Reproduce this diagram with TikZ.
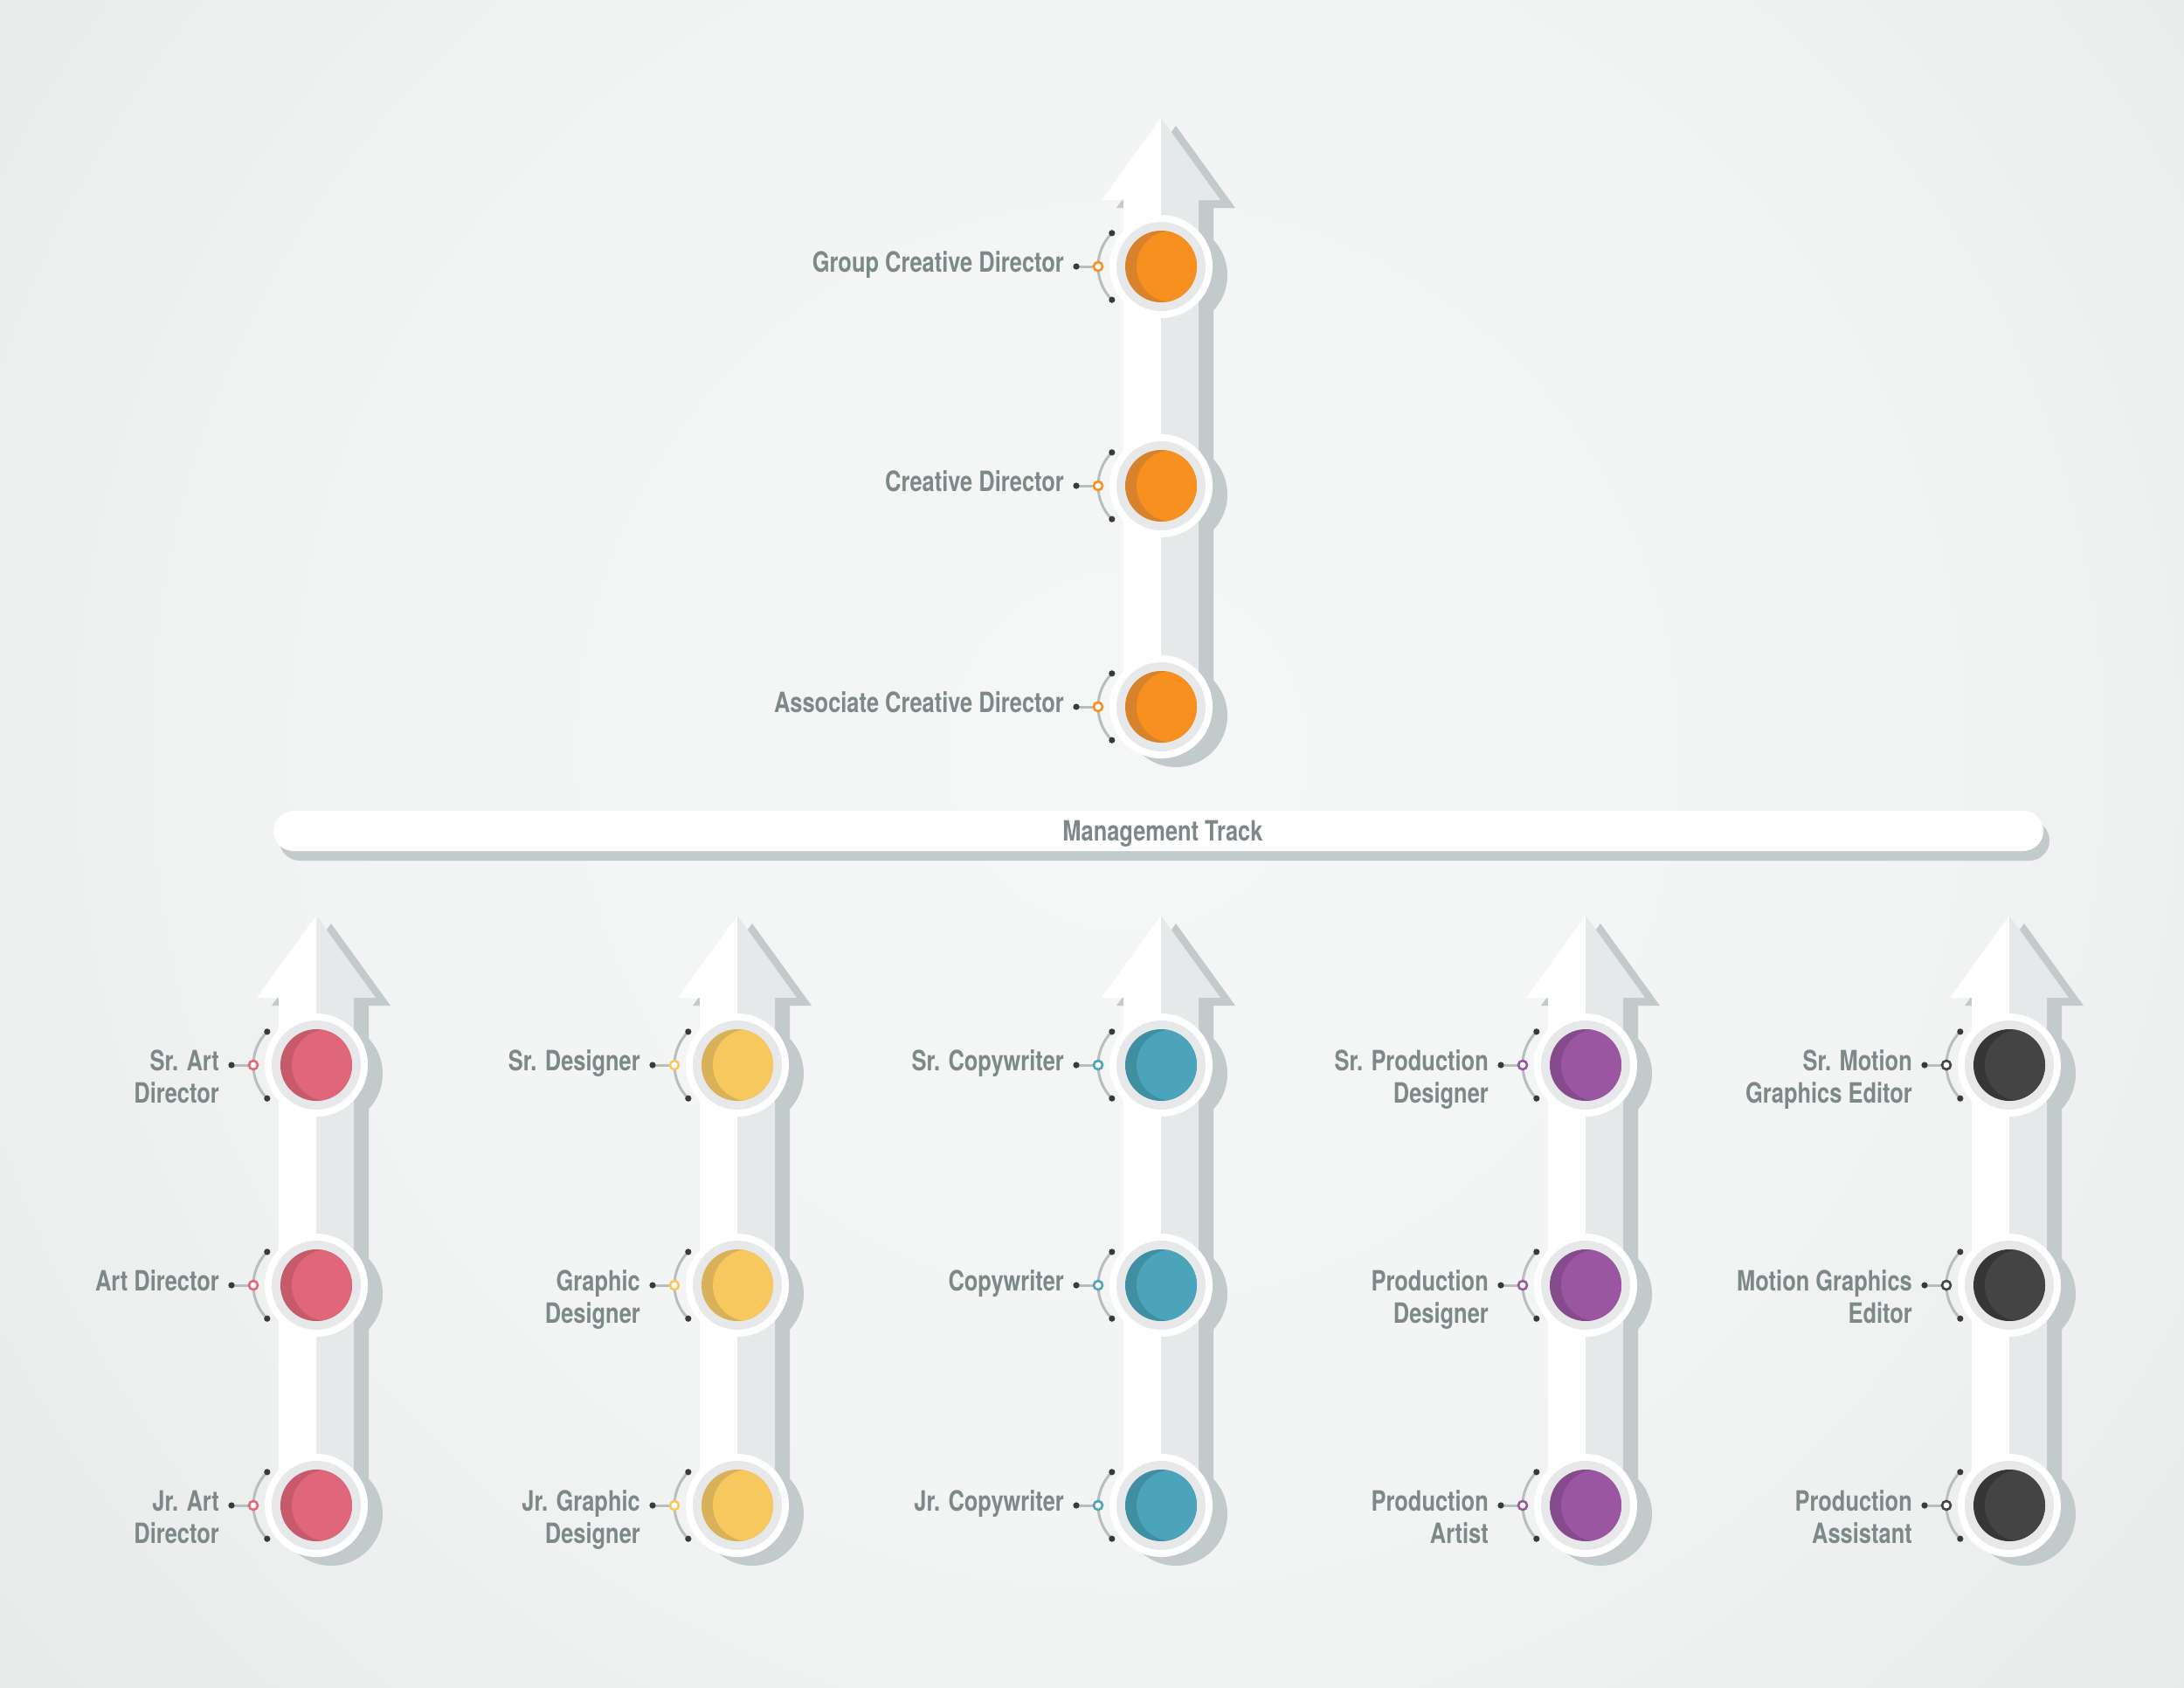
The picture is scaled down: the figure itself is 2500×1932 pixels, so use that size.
\documentclass[tikz,border=0pt]{standalone}
\usepackage{fontspec}
\newfontfamily\labfont[FakeStretch=0.795]{TeX Gyre Heros}
\definecolor{bgin}{HTML}{F5F6F6}
\definecolor{bgmid}{HTML}{F3F4F4}
\definecolor{bgout}{HTML}{D2D3D3}
\definecolor{shadowc}{HTML}{C3CACB}
\definecolor{lightc}{HTML}{E6E9EA}
\definecolor{ringc}{HTML}{E6E8E9}
\definecolor{arcc}{HTML}{B8BDBE}
\definecolor{dotc}{HTML}{3A3A3A}
\definecolor{textc}{HTML}{7D8989}
\definecolor{cOr}{HTML}{F7901E}
\definecolor{cOrD}{HTML}{D8822C}
\definecolor{cPk}{HTML}{E0677A}
\definecolor{cPkD}{HTML}{C65A6B}
\definecolor{cYe}{HTML}{F6C85E}
\definecolor{cYeD}{HTML}{D9B158}
\definecolor{cTe}{HTML}{4BA4B9}
\definecolor{cTeD}{HTML}{3F8EA1}
\definecolor{cPu}{HTML}{9B56A1}
\definecolor{cPuD}{HTML}{864B8C}
\definecolor{cDk}{HTML}{444444}
\definecolor{cDkD}{HTML}{363636}
\pgfdeclareradialshading{bgshade}{\pgfpoint{0bp}{0bp}}{color(0bp)=(bgin); color(12bp)=(bgmid); color(50bp)=(bgout)}
\tikzset{
  labeltext/.style={font=\labfont\bfseries\fontsize{32}{37}\selectfont, text=textc, inner sep=0pt},
  connline/.style={draw=arcc, line width=3pt},
  bracketarc/.style={draw=arcc, line width=3pt},
}
% arrow with shadows: #1 x, #2 tip y, #3 bottom y, #4 list of circle y
\newcommand\ladderbg[4]{%
  \begin{scope}[shift={(#1,0)}]
    \fill[shadowc,shift={(17,9)}] (0,#2) -- (68,#2+94) -- (43,#2+94) -- (43,#3) -- (-43,#3) -- (-43,#2+94) -- (-68,#2+94) -- cycle;
    \foreach \yy in {#4} {\fill[shadowc] (17,\yy+10) circle[radius=59pt];}
    \fill[white] (0,#2) -- (0,#3) -- (-43,#3) -- (-43,#2+94) -- (-68,#2+94) -- cycle;
    \fill[lightc] (0,#2) -- (68,#2+94) -- (43,#2+94) -- (43,#3) -- (0,#3) -- cycle;
  \end{scope}}
% stage: #1 name, #2 x, #3 y, #4 colour, #5 dark colour, #6 label
\newcommand\stage[6]{%
  \fill[white] (#2,#3) circle[radius=59pt];
  \fill[ringc] (#2,#3) circle[radius=51pt];
  \fill[#5] (#2,#3) circle[radius=41pt];
  \begin{scope}
    \clip (#2,#3) circle[radius=41pt];
    \fill[#4] (#2+13,#3) circle[radius=41pt];
  \end{scope}
  \node[circle, minimum size=118pt, inner sep=0pt] (#1) at (#2,#3) {};
  \draw[bracketarc] (#2-18,#3) ++(135:54pt) coordinate (#1-a) arc[start angle=135, end angle=225, radius=54pt] coordinate (#1-b);
  \fill[dotc] (#1-a) circle[radius=3.6pt];
  \fill[dotc] (#1-b) circle[radius=3.6pt];
  \coordinate (#1-m) at (#2-72,#3);
  \coordinate (#1-d) at (#2-97,#3);
  \draw[connline] (#1-d) -- (#1-m);
  \fill[dotc] (#1-d) circle[radius=3.6pt];
  \draw[#4, line width=2.6pt, fill=white] (#1-m) circle[radius=5pt];
  \node[labeltext, anchor=base east] (#1-t) at (#2-111,#3+6) {\begin{tabular}[t]{@{}r@{}}#6\end{tabular}};
}
\begin{document}
\begin{tikzpicture}[x=1pt,y=-1pt]
\useasboundingbox (0,0) rectangle (2500,1932);
\fill[bgout] (0,0) rectangle (2500,1932);
\begin{scope}
  \clip (0,0) rectangle (2500,1932);
  \shade[shading=bgshade] (1290,860) circle[radius=1750pt];
\end{scope}

% top column
\ladderbg{1329}{135}{809}{305,556,809}
\stage{gcd}{1329}{305}{cOr}{cOrD}{Group Creative Director}
\stage{cd}{1329}{556}{cOr}{cOrD}{Creative Director}
\stage{acd}{1329}{809}{cOr}{cOrD}{Associate Creative Director}

% management track bar
\fill[shadowc, rounded corners=23pt] (320,939) rectangle (2346,985);
\fill[white, rounded corners=23pt] (313,928) rectangle (2339,974);
\node[labeltext, anchor=base] (mt) at (1331,962) {Management Track};

% bottom columns
\ladderbg{362}{1048}{1723}{1219,1471,1723}
\stage{sad}{362}{1219}{cPk}{cPkD}{Sr. Art\\Director}
\stage{ad}{362}{1471}{cPk}{cPkD}{Art Director}
\stage{jad}{362}{1723}{cPk}{cPkD}{Jr. Art\\Director}

\ladderbg{844}{1048}{1723}{1219,1471,1723}
\stage{sd}{844}{1219}{cYe}{cYeD}{Sr. Designer}
\stage{gd}{844}{1471}{cYe}{cYeD}{Graphic\\Designer}
\stage{jgd}{844}{1723}{cYe}{cYeD}{Jr. Graphic\\Designer}

\ladderbg{1329}{1048}{1723}{1219,1471,1723}
\stage{sc}{1329}{1219}{cTe}{cTeD}{Sr. Copywriter}
\stage{cw}{1329}{1471}{cTe}{cTeD}{Copywriter}
\stage{jc}{1329}{1723}{cTe}{cTeD}{Jr. Copywriter}

\ladderbg{1815}{1048}{1723}{1219,1471,1723}
\stage{spd}{1815}{1219}{cPu}{cPuD}{Sr. Production\\Designer}
\stage{pd}{1815}{1471}{cPu}{cPuD}{Production\\Designer}
\stage{pa}{1815}{1723}{cPu}{cPuD}{Production\\Artist}

\ladderbg{2300}{1048}{1723}{1219,1471,1723}
\stage{smge}{2300}{1219}{cDk}{cDkD}{Sr. Motion\\Graphics Editor}
\stage{mge}{2300}{1471}{cDk}{cDkD}{Motion Graphics\\Editor}
\stage{pas}{2300}{1723}{cDk}{cDkD}{Production\\Assistant}
\end{tikzpicture}
\end{document}
